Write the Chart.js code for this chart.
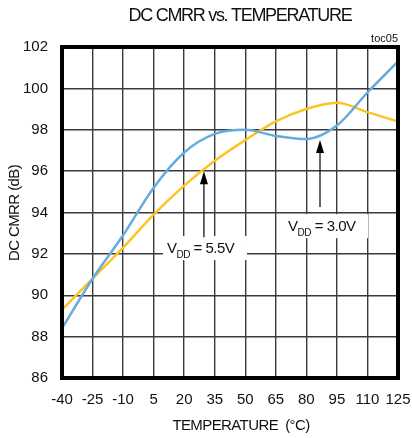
<!DOCTYPE html>
<html>
<head>
<meta charset="utf-8">
<script src="https://cdn.jsdelivr.net/npm/chart.js@4/dist/chart.umd.min.js"></script>
<style>
  html, body { margin: 0; padding: 0; background: #fff; }
  #wrap { width: 412px; height: 438px; }
</style>
</head>
<body>
<div id="wrap"><canvas id="myChart" width="412" height="438"></canvas></div>
<script>
// Temperatuur (°C) op de x-as
const temperatures = [-40, -25, -10, 5, 20, 35, 50, 65, 80, 95, 110, 125];
// DC CMRR (dB) per voedingsspanning
const cmrr30 = [88.4, 90.8, 92.9, 95.2, 96.9, 97.8, 98.0, 97.7, 97.55, 98.2, 99.8, 101.3];
const cmrr55 = [89.3, 90.8, 92.3, 93.9, 95.3, 96.5, 97.5, 98.4, 99.0, 99.3, 98.85, 98.4];
const xTicks = [-40, -25, -10, 5, 20, 35, 50, 65, 80, 95, 110, 125];
const yTicks = [86, 88, 90, 92, 94, 96, 98, 100, 102];

// Pijlen met labels (in datacoordinaten)
const notes = [
    { label: '5.5V', x: 29.7, tip: 96.0, tail: 92.8, boxX: 30.2, boxY: 92.28, w: 84 },
    { label: '3.0V', x: 86.7, tip: 97.5, tail: 94.26, boxX: 89.7, boxY: 93.34, w: 84 }
];

const toPoints = (ys) => temperatures.map((t, i) => ({ x: t, y: ys[i] }));

const extras = {
    id: 'extras',
    afterDatasetsDraw(chart) {
        const c = chart.ctx;
        const xs = chart.scales.x, ys = chart.scales.y;
        const area = chart.chartArea;

        // dikke rand
        c.save();
        c.strokeStyle = '#000';
        c.lineWidth = 4;
        c.strokeRect(area.left, area.top, area.right - area.left, area.bottom - area.top);

        // pijlen en labels
        notes.forEach(n => {
            const px = xs.getPixelForValue(n.x);
            const tipY = ys.getPixelForValue(n.tip);
            const tailY = ys.getPixelForValue(n.tail);
            const bx = xs.getPixelForValue(n.boxX);
            const by = ys.getPixelForValue(n.boxY);

            c.fillStyle = '#fff';
            c.fillRect(bx - n.w / 2, by - 12, n.w, 24);

            c.strokeStyle = '#000';
            c.lineWidth = 1.2;
            c.beginPath();
            c.moveTo(px, tipY + 10);
            c.lineTo(px, tailY);
            c.stroke();
            c.fillStyle = '#000';
            c.beginPath();
            c.moveTo(px, tipY);
            c.lineTo(px - 4, tipY + 13);
            c.lineTo(px + 4, tipY + 13);
            c.closePath();
            c.fill();

            c.fillStyle = '#111';
            c.textBaseline = 'alphabetic';
            c.textAlign = 'left';
            c.font = '15px "Liberation Sans", Arial, sans-serif';
            c.letterSpacing = '-0.5px';
            let x0 = bx - n.w / 2 + 4;
            const base = by + 5;
            c.fillText('V', x0, base);
            x0 += c.measureText('V').width;
            c.font = '10px "Liberation Sans", Arial, sans-serif';
            c.fillText('DD', x0, base + 5);
            x0 += c.measureText('DD').width;
            c.font = '15px "Liberation Sans", Arial, sans-serif';
            c.fillText(' = ' + n.label, x0, base);
        });

        // titels
        c.fillStyle = '#111';
        c.textAlign = 'center';
        c.textBaseline = 'middle';
        c.font = '18px "Liberation Sans", Arial, sans-serif';
        c.letterSpacing = '-1.3px';
        c.fillText('DC CMRR vs. TEMPERATURE', 240, 16);

        c.font = '11px "Liberation Sans", Arial, sans-serif';
        c.letterSpacing = '0px';
        c.textAlign = 'right';
        c.fillText('toc05', 398, 39);

        c.textAlign = 'center';
        c.font = '15px "Liberation Sans", Arial, sans-serif';
        c.letterSpacing = '-0.6px';
        c.fillText('TEMPERATURE  (°C)', 241, 426);

        c.translate(15, 213);
        c.rotate(-Math.PI / 2);
        c.fillText('DC CMRR (dB)', 0, 0);
        c.restore();
    }
};

const ctx = document.getElementById('myChart').getContext('2d');
const cmrrChart = new Chart(ctx, {
    type: 'line',
    data: {
        datasets: [{
            label: 'VDD = 3.0V',
            data: toPoints(cmrr30),
            borderColor: '#66acde',
            borderWidth: 2.5,
            pointRadius: 0,
            fill: false,
            cubicInterpolationMode: 'monotone'
        }, {
            label: 'VDD = 5.5V',
            data: toPoints(cmrr55),
            borderColor: '#fcc424',
            borderWidth: 2.5,
            pointRadius: 0,
            fill: false,
            cubicInterpolationMode: 'monotone'
        }]
    },
    options: {
        responsive: false,
        animation: false,
        devicePixelRatio: 1,
        layout: { padding: { top: 47, right: 14, left: 0, bottom: 0 } },
        plugins: { legend: { display: false }, tooltip: { enabled: false } },
        scales: {
            x: {
                type: 'linear',
                min: -40,
                max: 125,
                afterBuildTicks: (s) => { s.ticks = xTicks.map(v => ({ value: v })); },
                afterFit: (s) => { s.height = 60; s.paddingLeft = 0; s.paddingRight = 0; },
                grid: { color: '#3a3a3a', lineWidth: 1.4, drawTicks: false },
                border: { display: false },
                ticks: {
                    padding: 13,
                    color: '#111',
                    font: { family: '"Liberation Sans", Arial, sans-serif', size: 15 },
                    maxRotation: 0,
                    autoSkip: false
                }
            },
            y: {
                min: 86,
                max: 102,
                afterBuildTicks: (s) => { s.ticks = yTicks.map(v => ({ value: v })); },
                afterFit: (s) => { s.width = 62; s.paddingTop = 0; s.paddingBottom = 0; },
                grid: { color: '#3a3a3a', lineWidth: 1.4, drawTicks: false },
                border: { display: false },
                ticks: {
                    padding: 14,
                    color: '#111',
                    font: { family: '"Liberation Sans", Arial, sans-serif', size: 15 }
                }
            }
        }
    },
    plugins: [extras]
});
</script>
</body>
</html>
